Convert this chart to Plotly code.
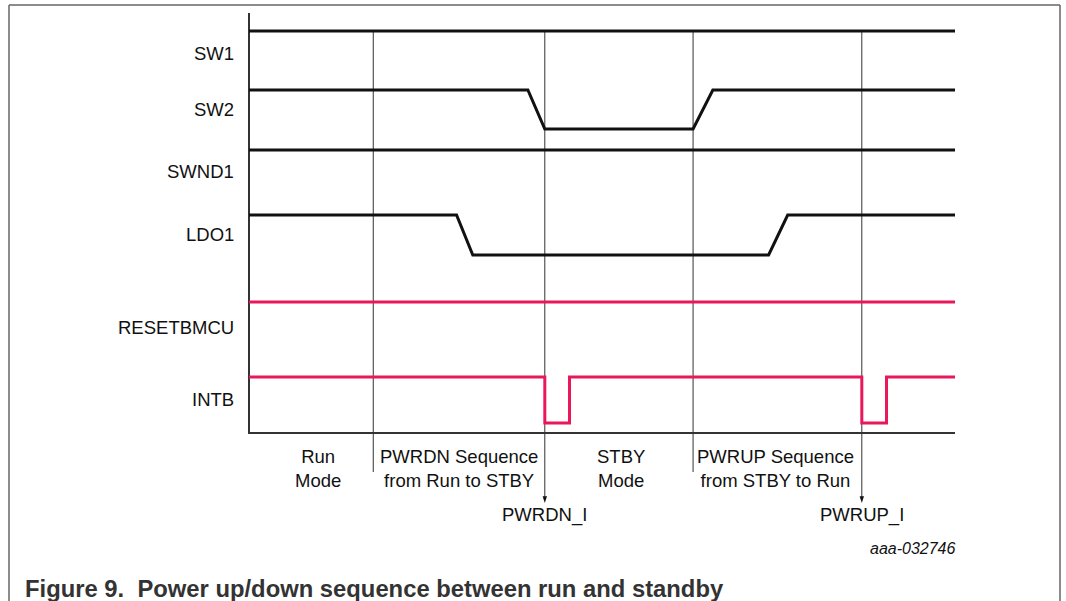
import plotly.graph_objects as go

# ---------------- data ----------------
signal_names = ["SW1", "SW2", "SWND1", "LDO1", "RESETBMCU", "INTB"]
label_levels = [380, 324, 262, 199, 106, 34]

sw1_t = [0, 100]
sw1_v = [402, 402]
sw2_t = [0, 39.5, 41.9, 62.9, 65.7, 100]
sw2_v = [343, 343, 304, 304, 343, 343]
swnd1_t = [0, 100]
swnd1_v = [283, 283]
ldo1_t = [0, 29.4, 31.7, 73.6, 76.3, 100]
ldo1_v = [218, 218, 178, 178, 218, 218]
reset_t = [0, 100]
reset_v = [131, 131]
intb_t = [0, 41.9, 41.9, 45.4, 45.4, 86.8, 86.8, 90.3, 90.3, 100]
intb_v = [56, 56, 10, 10, 56, 56, 10, 10, 56, 56]

marker_t = [17.6, 41.9, 62.9, 86.8]
marker_arrow = [False, True, False, True]
marker_top = 402
marker_bottom = -39
arrow_tip = -70

phase_t = [9.8, 29.7, 52.7, 74.6]
phase_labels = ["Run<br>Mode", "PWRDN Sequence<br>from Run to STBY",
                "STBY<br>Mode", "PWRUP Sequence<br>from STBY to Run"]
phase_level = -35
event_labels = ["PWRDN_I", "PWRUP_I"]
event_level = -82

axis_top = 420
t_end = 100

BLACK = "#111111"
RED = "#E8185A"
FONT = "Liberation Sans, Arial, sans-serif"

fig = go.Figure()

# axes drawn as traces
fig.add_trace(go.Scatter(x=[0, 0, t_end], y=[axis_top, 0, 0], mode="lines",
                         line=dict(color="#333333", width=2), hoverinfo="skip"))

# phase marker lines
for t, arr in zip(marker_t, marker_arrow):
    bottom = arrow_tip + 6 if arr else marker_bottom
    fig.add_trace(go.Scatter(x=[t, t], y=[marker_top, bottom], mode="lines",
                             line=dict(color="#333333", width=1), hoverinfo="skip"))
    if arr:
        fig.add_trace(go.Scatter(x=[t], y=[arrow_tip], mode="markers",
                                 marker=dict(symbol="arrow", angle=180, size=7,
                                             color="#111111", line=dict(width=0)),
                                 hoverinfo="skip"))

# signals
for t, v, c in [(sw1_t, sw1_v, BLACK), (sw2_t, sw2_v, BLACK), (swnd1_t, swnd1_v, BLACK),
                (ldo1_t, ldo1_v, BLACK), (reset_t, reset_v, RED), (intb_t, intb_v, RED)]:
    fig.add_trace(go.Scatter(x=t, y=v, mode="lines", line=dict(color=c, width=3),
                             hoverinfo="skip"))

annotations = []
for name, lvl in zip(signal_names, label_levels):
    annotations.append(dict(x=-1.85, y=lvl, xref="x", yref="y", text=name, showarrow=False,
                            xanchor="right", yanchor="middle",
                            font=dict(family=FONT, size=18.5, color=BLACK)))
for t, txt in zip(phase_t, phase_labels):
    annotations.append(dict(x=t, y=phase_level, xref="x", yref="y", text=txt, showarrow=False,
                            xanchor="center", yanchor="middle",
                            font=dict(family=FONT, size=18.5, color=BLACK)))
for t, txt in zip([m for m, a in zip(marker_t, marker_arrow) if a], event_labels):
    annotations.append(dict(x=t, y=event_level, xref="x", yref="y", text=txt, showarrow=False,
                            xanchor="center", yanchor="middle",
                            font=dict(family=FONT, size=18.5, color=BLACK)))
annotations.append(dict(x=t_end + 0.4, y=-115, xref="x", yref="y", text="<i>aaa-032746</i>",
                        showarrow=False, xanchor="right", yanchor="middle",
                        font=dict(family=FONT, size=16, color=BLACK)))
annotations.append(dict(x=23 / 1066, y=1 - 588 / 601, xref="paper", yref="paper",
                        text="<b>Figure 9.  Power up/down sequence between run and standby</b>",
                        showarrow=False, xanchor="left", yanchor="middle",
                        font=dict(family=FONT, size=23.8, color="#333333")))

# frame
shapes = [
    dict(type="line", xref="paper", yref="paper", x0=9 / 1066, x1=9 / 1066, y0=0, y1=1 - 5 / 601,
         line=dict(color="#666666", width=1.5)),
    dict(type="line", xref="paper", yref="paper", x0=1060 / 1066, x1=1060 / 1066, y0=0,
         y1=1 - 5 / 601, line=dict(color="#666666", width=1.5)),
    dict(type="line", xref="paper", yref="paper", x0=9 / 1066, x1=1060 / 1066,
         y0=1 - 5 / 601, y1=1 - 5 / 601, line=dict(color="#666666", width=1.5)),
]

px_per_t = 706 / 100.0
fig.update_layout(
    width=1066, height=601,
    margin=dict(l=0, r=0, t=0, b=0),
    paper_bgcolor="white", plot_bgcolor="white",
    showlegend=False,
    xaxis=dict(range=[-249 / px_per_t, (1066 - 249) / px_per_t], visible=False, fixedrange=True),
    yaxis=dict(range=[-(601 - 433), 433], visible=False, fixedrange=True),
    annotations=annotations,
    shapes=shapes,
)

fig.write_html("out.html", config={"displayModeBar": False},
               post_script="document.body.style.margin='0';document.body.style.overflow='hidden';")
